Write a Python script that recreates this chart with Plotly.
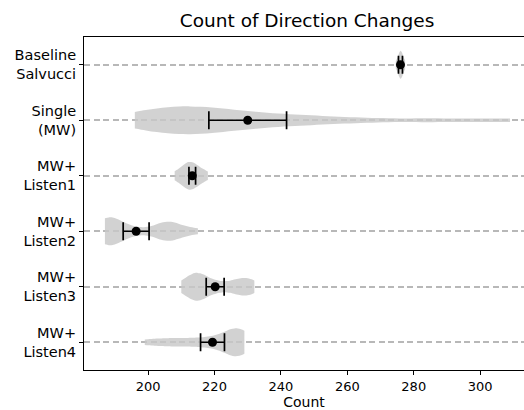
import plotly.graph_objects as go

categories = ["Baseline<br>Salvucci", "Single<br>(MW)", "MW+<br>Listen1",
              "MW+<br>Listen2", "MW+<br>Listen3", "MW+<br>Listen4"]

# estimated per-condition samples (count of direction changes)
samples = {
    "Baseline<br>Salvucci": [274.6, 275.4, 275.8, 276.0, 276.0, 276.1, 276.3, 276.7, 277.4],
    "Single<br>(MW)": [196, 199, 202, 205, 208, 211, 213, 215, 218, 221, 225, 230, 236, 242, 250, 262, 285, 309],
    "MW+<br>Listen1": [208, 210, 211, 212, 212, 213, 213, 214, 215, 216, 218],
    "MW+<br>Listen2": [187, 187, 187, 188, 189, 190, 192, 196, 203, 205, 206, 207, 209, 215],
    "MW+<br>Listen3": [210, 212, 213, 214, 215, 215, 216, 217, 219, 221, 224, 227, 228, 229, 231, 232],
    "MW+<br>Listen4": [199, 204, 208, 212, 216, 219, 222, 224, 225, 226, 227, 228, 229, 229],
}
bandwidths = [0.6, 10, 1.8, 3.5, 2.5, 3.0]

means = [276.0, 230.0, 213.3, 196.4, 220.2, 219.4]
errors = [0.6, 11.7, 1.0, 3.9, 2.7, 3.6]

x_ticks = [200, 220, 240, 260, 280, 300]
x_range = [180.7, 313.2]

fig = go.Figure()
for cat, bw in zip(categories, bandwidths):
    vals = samples[cat]
    fig.add_trace(go.Violin(
        x=vals, y=[cat] * len(vals), orientation="h",
        name=cat, width=0.5, scalemode="width", spanmode="hard",
        bandwidth=bw, points=False, side="both",
        fillcolor="rgba(200,200,200,0.82)", line=dict(width=0, color="rgba(0,0,0,0)"),
        box_visible=False, meanline_visible=False, showlegend=False, hoverinfo="skip",
    ))

fig.add_trace(go.Scatter(
    x=means, y=categories, mode="markers",
    marker=dict(color="black", size=9),
    error_x=dict(type="data", array=errors, color="black", thickness=1.7, width=9),
    showlegend=False,
))

fig.update_layout(
    width=524, height=410,
    margin=dict(l=84, r=0, t=37, b=40),
    paper_bgcolor="white", plot_bgcolor="white",
    font=dict(family="DejaVu Sans", size=12, color="black"),
    title=dict(text="Count of Direction Changes", x=0.586, xanchor="center",
               xref="container", y=1, yref="container", yanchor="top", pad=dict(t=14),
               font=dict(size=18.5, color="black")),
    violingap=0, violinmode="overlay",
)
fig.update_xaxes(
    range=x_range, tickvals=x_ticks, ticks="outside", ticklen=4, tickwidth=1,
    tickcolor="black", showline=True, linecolor="black", linewidth=1, mirror=True,
    showgrid=False, zeroline=False, tickfont=dict(size=13), automargin=False,
    title=dict(text="Count", font=dict(size=14), standoff=3),
)
fig.update_yaxes(
    type="category", categoryorder="array", categoryarray=categories,
    range=[5.5, -0.5], ticks="outside", ticklen=4, tickwidth=1, tickcolor="black",
    showline=True, linecolor="black", linewidth=1, showgrid=True,
    gridcolor="#b8b8b8", gridwidth=1.5, griddash="6px,3.5px", zeroline=False,
    tickfont=dict(size=14.5), automargin=False,
)

fig.write_html("out.html", config={"displayModeBar": False},
               post_script="document.body.style.margin='0';document.body.style.overflow='hidden';")
